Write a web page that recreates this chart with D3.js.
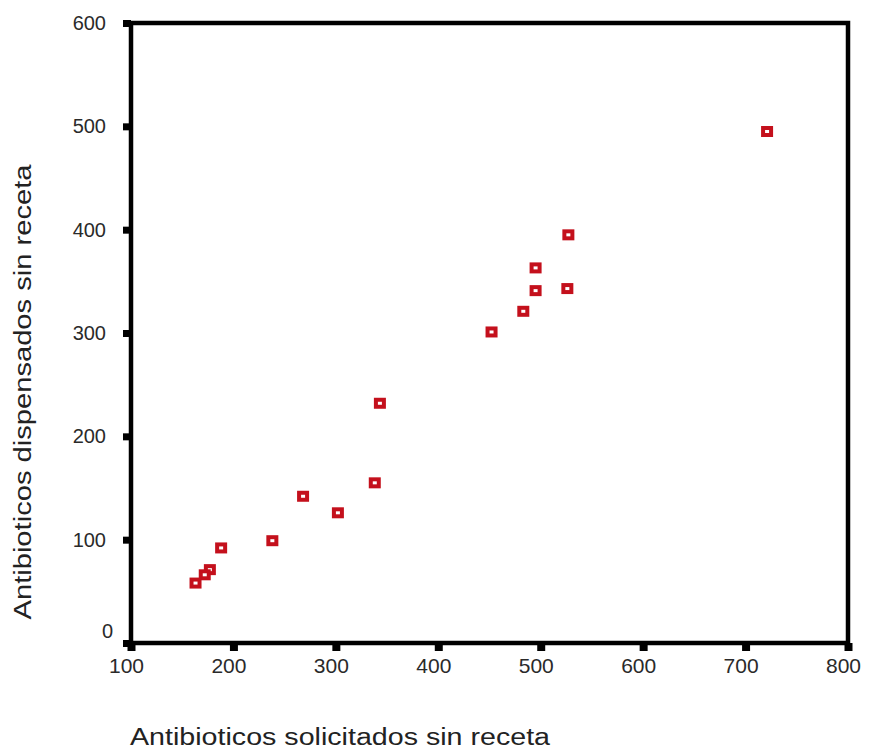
<!DOCTYPE html>
<html><head><meta charset="utf-8">
<script src="https://cdn.jsdelivr.net/npm/d3@7"></script>
<style>body{margin:0;background:#fff;}svg{display:block;}</style>
</head><body>
<svg id="chart" width="869" height="755"></svg>
<script>
const solicitados = [721, 527, 495, 495, 526, 483, 452, 343, 338, 268, 302, 238, 188, 177, 172, 163];
const dispensados = [495, 395, 363, 341, 343, 321, 301, 232, 155, 142, 126, 99, 92, 71, 66, 58];
const xTicks = [100, 200, 300, 400, 500, 600, 700, 800];
const yTicks = [0, 100, 200, 300, 400, 500, 600];
const xTitle = "Antibioticos solicitados sin receta";
const yTitle = "Antibioticos dispensados sin receta";

const svg = d3.select("#chart");
const L = 131, R = 848, T = 23, B = 643;
const x = d3.scaleLinear().domain([100, 800]).range([L, R]);
const y = d3.scaleLinear().domain([0, 600]).range([B, T]);
const font = "'Liberation Sans', Arial, sans-serif";

// frame
svg.append("rect").attr("x", L).attr("y", T).attr("width", R - L).attr("height", B - T)
  .attr("fill", "none").attr("stroke", "#000").attr("stroke-width", 4.5);

const xAxis = svg.append("g").attr("transform", `translate(0,${B})`)
  .call(d3.axisBottom(x).tickValues(xTicks).tickSize(8).tickPadding(6).tickFormat(d3.format("d")));
const yAxis = svg.append("g").attr("transform", `translate(${L},0)`)
  .call(d3.axisLeft(y).tickValues(yTicks).tickSize(8).tickPadding(25).tickFormat(d3.format("d")));
[xAxis, yAxis].forEach(g => {
  g.select(".domain").remove();
  g.selectAll(".tick line").attr("stroke", "#000");
  g.selectAll(".tick text").attr("font-family", font).attr("fill", "#2a2a2a");
});
xAxis.selectAll(".tick line").attr("stroke-width", 8);
xAxis.selectAll(".tick text").attr("font-size", 21).attr("dx", -5).attr("dy", "0.75em");
yAxis.selectAll(".tick line").attr("stroke-width", 7);
yAxis.selectAll(".tick text").attr("font-size", 20).attr("x", -25)
  .attr("dx", d => d === 0 ? 7 : 0).attr("dy", d => d === 0 ? "-0.28em" : "0.32em");

// points
const s = 8;
svg.append("g").selectAll("rect").data(solicitados.map((v, i) => [v, dispensados[i]]))
  .join("rect")
  .attr("x", d => x(d[0]) - s / 2).attr("y", d => y(d[1]) - s / 2 + 0.5)
  .attr("width", s).attr("height", s - 1)
  .attr("fill", "#fff").attr("stroke", "#c4101c").attr("stroke-width", 4);

svg.append("text").attr("x", 340).attr("y", 745).attr("text-anchor", "middle")
  .attr("font-family", font).attr("font-size", 23).attr("fill", "#222")
  .attr("textLength", 420).attr("lengthAdjust", "spacingAndGlyphs").text(xTitle);
svg.append("text").attr("transform", "translate(31,392) rotate(-90)").attr("text-anchor", "middle")
  .attr("font-family", font).attr("font-size", 23).attr("fill", "#222")
  .attr("textLength", 455).attr("lengthAdjust", "spacingAndGlyphs").text(yTitle);
</script>
</body></html>
